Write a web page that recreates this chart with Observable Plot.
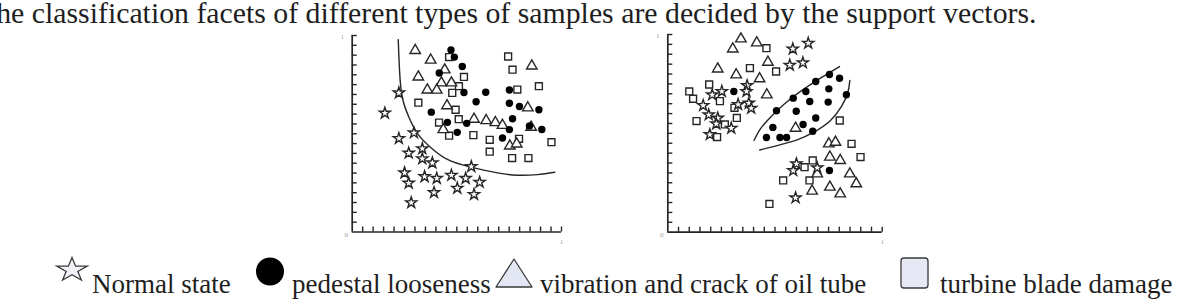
<!DOCTYPE html>
<html>
<head>
<meta charset="utf-8">
<script src="https://cdn.jsdelivr.net/npm/d3@7"></script>
<script src="https://cdn.jsdelivr.net/npm/@observablehq/plot@0.6"></script>
<style>
  html, body { margin: 0; padding: 0; background: #fff; }
  #chart { position: relative; width: 1197px; height: 305px; overflow: hidden; background: #fff;
           font-family: "Liberation Serif", "Times New Roman", serif; }
  #chart svg { position: absolute; }
</style>
</head>
<body>
<div id="chart"></div>
<script>
// ---- text ----
const titleText = "The classification facets of different types of samples are decided by the support vectors.";
const classNames = ["Normal state", "pedestal looseness", "vibration and crack of oil tube", "turbine blade damage"];
const tickLabels = ["0", "1"];
const axisTicks = [0.05, 0.1, 0.15, 0.2, 0.25, 0.3, 0.35, 0.4, 0.45, 0.5,
                   0.55, 0.6, 0.65, 0.7, 0.75, 0.8, 0.85, 0.9, 0.95, 1];

// ---- left panel: samples as [x, y] ----
const leftNormal = [[0.223,0.708],[0.156,0.605],[0.223,0.476],[0.295,0.505],[0.270,0.402],[0.335,0.424],
  [0.335,0.373],[0.383,0.352],[0.250,0.301],[0.270,0.249],[0.346,0.282],[0.404,0.273],[0.474,0.289],
  [0.542,0.273],[0.609,0.253],[0.502,0.223],[0.391,0.201],[0.582,0.191],[0.282,0.149],[0.569,0.333]];
const leftLoose = [[0.472,0.926],[0.488,0.890],[0.526,0.842],[0.416,0.809],[0.534,0.710],[0.638,0.711],
  [0.751,0.723],[0.592,0.663],[0.751,0.655],[0.799,0.639],[0.892,0.622],[0.378,0.610],[0.455,0.558],
  [0.547,0.553],[0.766,0.576],[0.502,0.507],[0.751,0.521],[0.847,0.540],[0.906,0.522],[0.718,0.478]];
const leftVibration = [[0.301,0.924],[0.375,0.875],[0.442,0.825],[0.316,0.789],[0.426,0.759],[0.474,0.759],
  [0.359,0.723],[0.404,0.722],[0.453,0.643],[0.582,0.574],[0.640,0.567],[0.684,0.557],[0.718,0.543],
  [0.435,0.521],[0.753,0.438],[0.786,0.448],[0.858,0.845],[0.839,0.632],[0.855,0.533]];
const leftBlade = [[0.463,0.890],[0.534,0.789],[0.510,0.742],[0.478,0.708],[0.316,0.658],[0.494,0.622],
  [0.509,0.574],[0.415,0.557],[0.463,0.490],[0.579,0.493],[0.657,0.469],[0.657,0.409],[0.745,0.893],
  [0.766,0.826],[0.789,0.725],[0.892,0.742],[0.797,0.474],[0.764,0.376],[0.842,0.376],[0.952,0.457]];
const leftBoundary = [[0.220,0.979],[0.226,0.825],[0.239,0.687],[0.271,0.584],[0.314,0.498],[0.375,0.430],
  [0.455,0.369],[0.566,0.330],[0.694,0.301],[0.789,0.289],[0.885,0.292],[0.968,0.304]];

// ---- right panel: samples as [x, y] ----
const rightNormal = [[0.583,0.927],[0.655,0.956],[0.569,0.845],[0.630,0.857],[0.370,0.742],[0.207,0.695],
  [0.252,0.712],[0.367,0.712],[0.165,0.641],[0.328,0.646],[0.378,0.653],[0.389,0.627],[0.191,0.594],
  [0.233,0.577],[0.226,0.548],[0.296,0.526],[0.196,0.494],[0.600,0.346],[0.585,0.312],[0.697,0.326],
  [0.596,0.174]];
const rightLoose = [[0.754,0.798],[0.801,0.779],[0.690,0.762],[0.751,0.725],[0.644,0.712],[0.833,0.695],
  [0.585,0.678],[0.662,0.661],[0.748,0.658],[0.507,0.614],[0.599,0.612],[0.690,0.578],[0.631,0.545],
  [0.490,0.530],[0.676,0.511],[0.460,0.479],[0.523,0.479],[0.554,0.479],[0.754,0.312],[0.308,0.712]];
const rightVibration = [[0.341,0.978],[0.415,0.958],[0.303,0.927],[0.467,0.860],[0.233,0.826],[0.319,0.796],
  [0.428,0.776],[0.462,0.695],[0.596,0.526],[0.751,0.447],[0.782,0.455],[0.756,0.380],[0.804,0.363],
  [0.697,0.295],[0.849,0.295],[0.879,0.245],[0.673,0.208],[0.756,0.228],[0.804,0.194]];
const rightBlade = [[0.460,0.931],[0.383,0.830],[0.505,0.813],[0.193,0.747],[0.100,0.712],[0.118,0.675],
  [0.243,0.663],[0.311,0.629],[0.322,0.578],[0.134,0.562],[0.266,0.545],[0.230,0.481],[0.802,0.565],
  [0.857,0.447],[0.899,0.380],[0.676,0.363],[0.638,0.329],[0.538,0.262],[0.661,0.262],[0.474,0.143]];
const rightBoundaryUpper = [[0.402,0.464],[0.432,0.523],[0.479,0.582],[0.541,0.646],[0.619,0.712],
  [0.712,0.779],[0.801,0.838]];
const rightBoundaryLower = [[0.429,0.416],[0.510,0.438],[0.603,0.467],[0.681,0.506],[0.759,0.565],
  [0.813,0.641],[0.840,0.708],[0.849,0.767]];

const ink = "#262626";
const px = d => d[0], py = d => d[1];

// One scatter panel with inward ticks on both axes and the decision boundaries.
function panel({width, height, margin, normal, loose, vibration, blade, boundaries}) {
  const innerW = width - margin.left - margin.right;
  const innerH = height - margin.top - margin.bottom;
  const label = {fontSize: 7, fill: "#9a9a9a", fontFamily: "Liberation Serif, serif"};
  return Plot.plot({
    width, height,
    marginLeft: margin.left, marginRight: margin.right,
    marginTop: margin.top, marginBottom: margin.bottom,
    x: {domain: [0, 1], axis: null},
    y: {domain: [0, 1], axis: null},
    style: {background: "transparent", overflow: "visible"},
    marks: [
      Plot.ruleX([0], {stroke: ink, strokeWidth: 1.7}),
      Plot.ruleY([0], {stroke: ink, strokeWidth: 1.7}),
      Plot.tickY(axisTicks, {y: d => d, insetRight: innerW - 5, stroke: ink, strokeWidth: 1.4}),
      Plot.tickX(axisTicks, {x: d => d, insetTop: innerH - 5, stroke: ink, strokeWidth: 1.4}),
      Plot.text([tickLabels[1]], {x: 0, y: 1, dx: -10, dy: 1, text: d => d, ...label}),
      Plot.text([tickLabels[0]], {x: 0, y: 0, dx: -6, dy: 3, text: d => d, ...label}),
      Plot.text([tickLabels[1]], {x: 1, y: 0, dy: 10, text: d => d, ...label}),
      ...boundaries.map(b => Plot.line(b, {x: px, y: py, curve: "natural", stroke: ink, strokeWidth: 1.4})),
      Plot.dot(blade, {x: px, y: py, symbol: "square", r: 3.9, fill: "#fff", stroke: ink, strokeWidth: 1.4}),
      Plot.dot(vibration, {x: px, y: py, symbol: "triangle", r: 3.9, fill: "#fff", stroke: ink, strokeWidth: 1.4}),
      Plot.dot(normal, {x: px, y: py, symbol: "star", r: 3.5, fill: "#fff", stroke: ink, strokeWidth: 1.4}),
      Plot.dot(loose, {x: px, y: py, symbol: "circle", r: 3.7, fill: "#000", stroke: "none"})
    ]
  });
}

const chart = document.getElementById("chart");

// Title and legend layer
const overlay = d3.select(chart).append("svg")
  .attr("width", 1197).attr("height", 305)
  .style("left", "0px").style("top", "0px")
  .attr("font-family", "Liberation Serif, Times New Roman, serif")
  .attr("fill", "#1e1e1e");

overlay.append("text").attr("x", -22).attr("y", 23).attr("font-size", 29.8).text(titleText);

const legendFont = 27;
const legendBase = 293;
// star icon
const starPath = d3.symbol(d3.symbolStar, 256 / 0.8908130915292852)();
overlay.append("path").attr("d", starPath)
  .attr("transform", "translate(72,270) scale(1,0.78)")
  .attr("fill", "#f1f2f9").attr("stroke", "#3a3a3a").attr("stroke-width", 1.3)
  .attr("vector-effect", "non-scaling-stroke");
overlay.append("text").attr("x", 92).attr("y", legendBase).attr("font-size", legendFont).text(classNames[0]);
// circle icon
overlay.append("circle").attr("cx", 270).attr("cy", 271.5).attr("r", 14).attr("fill", "#000");
overlay.append("text").attr("x", 292).attr("y", legendBase).attr("font-size", legendFont).text(classNames[1]);
// triangle icon
overlay.append("path").attr("d", "M496,287L514,259L532,287Z")
  .attr("fill", "#e3e7f3").attr("stroke", "#3a3a3a").attr("stroke-width", 1.3).attr("stroke-linejoin", "round");
overlay.append("text").attr("x", 540).attr("y", legendBase).attr("font-size", legendFont).text(classNames[2]);
// square icon
overlay.append("rect").attr("x", 901).attr("y", 258).attr("width", 27).attr("height", 30).attr("rx", 3)
  .attr("fill", "#e6e9f5").attr("stroke", "#3a3a3a").attr("stroke-width", 1.3);
overlay.append("text").attr("x", 940).attr("y", legendBase).attr("font-size", legendFont).text(classNames[3]);

// Panels
const left = panel({
  width: 280, height: 230, margin: {left: 51.7, right: 19, top: 15, bottom: 18.5},
  normal: leftNormal, loose: leftLoose, vibration: leftVibration, blade: leftBlade,
  boundaries: [leftBoundary]
});
left.style.left = "300px"; left.style.top = "20px";
chart.appendChild(left);

const right = panel({
  width: 290, height: 230, margin: {left: 52.3, right: 23.3, top: 14, bottom: 18.3},
  normal: rightNormal, loose: rightLoose, vibration: rightVibration, blade: rightBlade,
  boundaries: [rightBoundaryUpper, rightBoundaryLower]
});
right.style.left = "615px"; right.style.top = "20px";
chart.appendChild(right);
</script>
</body>
</html>
